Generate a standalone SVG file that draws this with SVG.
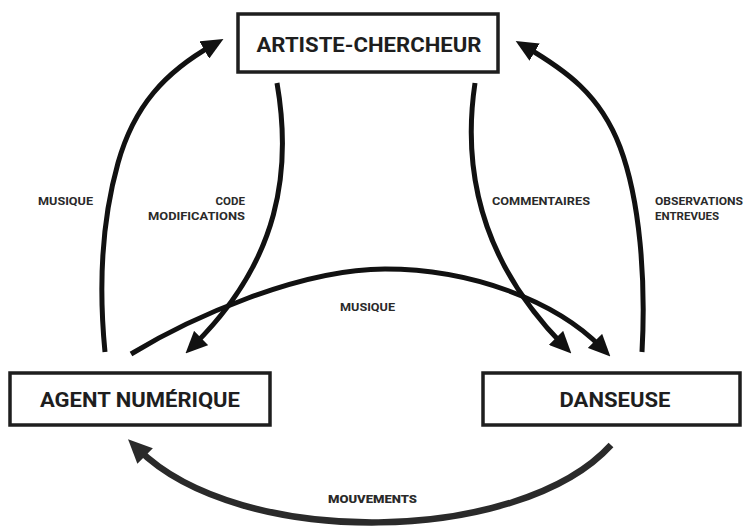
<svg xmlns="http://www.w3.org/2000/svg" width="747" height="527" viewBox="0 0 747 527">
<defs>
<style>
.box{fill:#fff;stroke:#1e1e1e;stroke-width:3.5}
.nt{font-family:Roboto,"Liberation Sans",sans-serif;font-weight:700;font-size:21px;fill:#1e1e1e;text-anchor:middle}
.lb{font-family:Roboto,"Liberation Sans",sans-serif;font-weight:700;font-size:11.5px;fill:#2a2a2a}
.ar{fill:none;stroke:#111;stroke-width:5;marker-end:url(#ah)}
.ar2{fill:none;stroke:#2a2a2a;stroke-width:6.5;marker-end:url(#ah2)}
</style>
<marker id="ah" viewBox="0 0 22 20" markerWidth="22" markerHeight="20" refX="10" refY="10" orient="auto" markerUnits="userSpaceOnUse">
<path d="M0,0 L22,10 L0,20 z" fill="#111"/>
</marker>
<marker id="ah2" viewBox="0 0 24 22" markerWidth="24" markerHeight="22" refX="10" refY="11" orient="auto" markerUnits="userSpaceOnUse">
<path d="M0,0 L24,11 L0,22 z" fill="#2a2a2a"/>
</marker>
</defs>
<rect width="747" height="527" fill="#fff"/>
<g id="connectors">
<path class="ar" d="M105,352 C98,280 102,220 118,163 C134,106 165,72 213,45"/>
<path class="ar" d="M277,83 C292,170 280,260 194,345"/>
<path class="ar" d="M475,83 C462,170 480,260 563,345"/>
<path class="ar" d="M642,352 C646,280 640,200 620,147 C600,94 565,70 526,47"/>
<path class="ar" d="M131,354 C190,318 300,269 385,269 C470,269 555,300 602,348"/>
<path class="ar2" d="M611,445 C520,545 240,550 138,449"/>
</g>
<g id="artiste">
<rect class="box" x="238" y="14" width="260" height="58"/>
<text class="nt" x="369" y="52" textLength="225" lengthAdjust="spacingAndGlyphs">ARTISTE-CHERCHEUR</text>
</g>
<g id="agent">
<rect class="box" x="10" y="373" width="260" height="52"/>
<text class="nt" x="140" y="407" textLength="200" lengthAdjust="spacingAndGlyphs">AGENT NUMÉRIQUE</text>
</g>
<g id="danseuse">
<rect class="box" x="483" y="373" width="257" height="52"/>
<text class="nt" x="615" y="407" textLength="111" lengthAdjust="spacingAndGlyphs">DANSEUSE</text>
</g>
<g id="labels">
<text class="lb" x="38" y="205" textLength="55" lengthAdjust="spacingAndGlyphs">MUSIQUE</text>
<text class="lb" x="245" y="205" text-anchor="end">CODE</text>
<text class="lb" x="245" y="220" text-anchor="end" textLength="97" lengthAdjust="spacingAndGlyphs">MODIFICATIONS</text>
<text class="lb" x="492" y="205" textLength="98" lengthAdjust="spacingAndGlyphs">COMMENTAIRES</text>
<text class="lb" x="655" y="205" textLength="88" lengthAdjust="spacingAndGlyphs">OBSERVATIONS</text>
<text class="lb" x="655" y="220">ENTREVUES</text>
<text class="lb" x="340" y="311" textLength="55" lengthAdjust="spacingAndGlyphs">MUSIQUE</text>
<text class="lb" x="328" y="503" textLength="89" lengthAdjust="spacingAndGlyphs" style="font-weight:900">MOUVEMENTS</text>
</g>
</svg>
